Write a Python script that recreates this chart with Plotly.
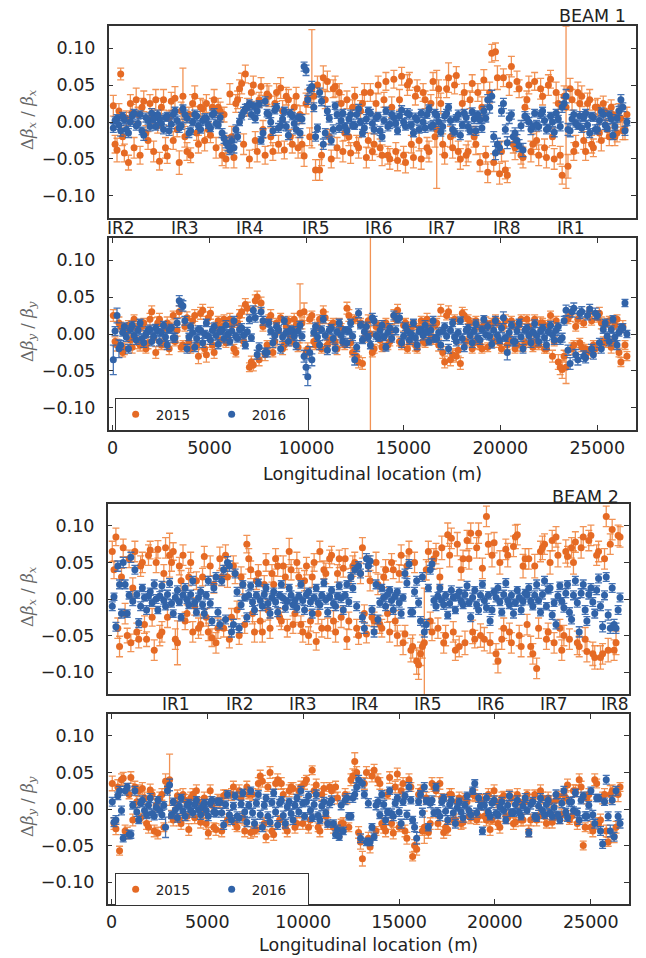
import numpy as np
import plotly.graph_objects as go

# ---------------- data (beta-beating values and errors in units of 1e-3) ----------------
# BPM longitudinal positions (m), two interleaved groups
bpm_s_a = [
    40, 230, 420, 610, 820, 1010, 1220, 1420, 1610, 1830, 2020, 2230,
    2420, 2630, 2820, 3030, 3220, 3440, 3630, 3840, 4030, 4240, 4430, 4650,
    4840, 5050, 5240, 5450, 5650, 5850, 6050, 6260, 6450, 6660, 6850, 7060,
    7260, 7460, 7660, 7870, 8060, 8270, 8460, 8670, 8860, 9070, 9270, 9470,
    9670, 9880, 10070, 10280, 10470, 10680, 10870, 11080, 11280, 11480, 11690, 11880,
    12090, 12280, 12490, 12690, 12890, 13090, 13300, 13490, 13700, 13900, 14100, 14300,
    14510, 14700, 14910, 15110, 15310, 15520, 15710, 15920, 16120, 16320, 16530, 16720,
    16930, 17130, 17330, 17540, 17730, 17940, 18140, 18340, 18550, 18740, 18950, 19150,
    19350, 19560, 19750, 19960, 20160, 20360, 20570, 20760, 20970, 21170, 21370, 21580,
    21770, 21980, 22180, 22380, 22590, 22780, 22990, 23190, 23390, 23600, 23790, 24000,
    24200, 24400, 24610, 24800, 25010, 25210, 25410, 25620, 25810, 26020, 26220, 26430,
]
bpm_s_b = [
    130, 330, 520, 710, 920, 1110, 1320, 1520, 1720, 1930, 2120, 2330,
    2520, 2730, 2920, 3130, 3330, 3540, 3730, 3940, 4130, 4340, 4540, 4750,
    4940, 5150, 5340, 5550, 5750, 5950, 6150, 6360, 6550, 6760, 6950, 7160,
    7360, 7560, 7760, 7970, 8160, 8370, 8560, 8770, 8960, 9170, 9370, 9570,
    9770, 9980, 10170, 10380, 10570, 10780, 10970, 11180, 11380, 11580, 11790, 11980,
    12190, 12380, 12590, 12790, 12990, 13190, 13400, 13590, 13800, 14000, 14200, 14400,
    14610, 14800, 15010, 15210, 15410, 15620, 15810, 16020, 16220, 16420, 16630, 16820,
    17030, 17230, 17430, 17640, 17830, 18040, 18240, 18440, 18650, 18840, 19050, 19250,
    19450, 19660, 19850, 20060, 20260, 20460, 20670, 20860, 21070, 21270, 21470, 21680,
    21870, 22080, 22280, 22480, 22690, 22880, 23090, 23290, 23490, 23700, 23890, 24100,
    24300, 24500, 24710, 24900, 25110, 25310, 25510, 25720, 25910, 26120, 26320, 26530,
]

# ---- Beam 1, horizontal ----
b1x_2015_a = [
    22, -38, 65, -42, -55, 12, 30, -45, 28, -25, 8, 30,
    -53, 30, -46, 28, 32, -55, 35, -40, -45, 35, -30, 18,
    25, -18, 30, 20, -45, -50, 38, -48, 30, 52, 65, -50,
    50, -40, 48, -45, 35, -40, 40, 46, -38, 30, -30, 35,
    10, -46, 32, 45, -65, -65, 60, 55, -50, 48, 40, -40,
    30, -42, 35, -35, 25, -48, 40, -30, 50, -45, 55, -50,
    58, -52, 62, -55, 55, -48, 45, -50, 30, -40, 55, -10,
    25, -45, 60, -35, 63, -50, 40, -40, 52, -30, -55, 57,
    -68, 93, 95, -70, 60, -72, 75, -35, 45, -48, 30, -40,
    55, -45, 35, -48, 58, -50, 25, -72, 20, 45, -40, 40,
    35, -40, 30, -35, 20, -25, 15, -20, 10, -15, 5, -10,
]
b1x_2015_b = [
    -30, 15, -20, 5, 25, -35, 10, 20, -15, 25, -40, -5,
    20, -35, 5, -25, -10, 15, -20, 10, 25, -15, 20, -25,
    -10, 20, -35, 15, 10, -30, -20, 25, 45, -30, 20, 40,
    -25, 30, -10, 38, -20, 25, -30, 15, 35, -20, 20, -35,
    -30, 25, -20, 35, 50, -45, 30, -20, 45, -35, 25, -15,
    -20, 20, -30, 15, 40, -25, -40, 25, -35, 30, -45, 20,
    -40, 30, -45, 50, -30, 35, -25, 40, -35, 25, -20, 45,
    -30, 45, -20, 50, -40, 25, -45, 30, -20, 40, 20, -45,
    40, -55, 60, -40, -65, 50, -30, 55, -45, 20, 50, -30,
    -25, 45, -35, 50, -20, 40, -45, 35, -60, 30, -30, 25,
    -25, 25, -30, 20, -15, 25, -10, 20, -20, 15, -12, 10,
]
b1x_2015_err_a = [
    14, 16, 8, 12, 10, 12, 16, 12, 14, 12, 10, 14,
    12, 14, 10, 12, 16, 16, 38, 12, 10, 14, 12, 12,
    12, 10, 14, 12, 14, 12, 14, 14, 12, 14, 12, 12,
    12, 14, 12, 12, 14, 12, 12, 14, 12, 14, 12, 12,
    12, 14, 12, 80, 14, 14, 16, 14, 12, 14, 12, 14,
    12, 14, 12, 14, 12, 14, 12, 14, 12, 14, 12, 14,
    12, 14, 12, 14, 12, 14, 12, 14, 12, 14, 12, 80,
    14, 12, 20, 14, 12, 14, 12, 14, 12, 14, 12, 14,
    14, 12, 12, 14, 12, 10, 14, 16, 12, 14, 12, 14,
    12, 14, 12, 14, 12, 14, 12, 12, 110, 14, 12, 14,
    14, 12, 14, 12, 12, 14, 12, 12, 14, 12, 12, 14,
]
b1x_2015_err_b = [
    12, 10, 12, 10, 12, 14, 10, 12, 10, 12, 14, 10,
    12, 14, 10, 12, 10, 12, 14, 10, 12, 10, 12, 14,
    10, 12, 14, 12, 10, 12, 14, 12, 12, 14, 12, 12,
    12, 10, 12, 14, 12, 10, 12, 14, 12, 10, 12, 14,
    12, 14, 12, 14, 12, 14, 12, 10, 12, 14, 12, 10,
    12, 10, 12, 14, 12, 10, 12, 14, 12, 10, 12, 14,
    12, 14, 12, 14, 12, 12, 14, 12, 14, 12, 14, 12,
    14, 12, 14, 12, 14, 12, 14, 12, 14, 12, 14, 12,
    14, 12, 16, 14, 12, 14, 12, 14, 12, 14, 12, 14,
    12, 14, 12, 14, 12, 14, 12, 14, 16, 14, 12, 14,
    12, 14, 12, 10, 12, 10, 12, 10, 12, 10, 12, 10,
]
b1x_2016_a = [
    -8, 5, -12, 3, -15, 8, -5, 10, -18, 2, 12, -6,
    4, -10, 8, -3, 15, -8, 18, 5, -12, 10, -5, 2,
    5, -8, 12, -4, -15, -28, -38, -35, -20, 8, 18, 25,
    22, 15, -25, 28, 10, -12, 20, -5, 15, -18, 8, -10,
    -15, 75, 30, 48, -20, 40, -30, 15, -25, 22, -8, 12,
    -12, 10, -5, 18, -15, 4, 12, -10, 8, -20, 15, -3,
    6, -12, 16, -6, 10, -15, 3, 12, -8, 18, -4, 9,
    -14, 8, 20, -10, 5, -18, 12, -6, 14, -12, 3, 15,
    30, 35, -42, -35, 25, -28, 10, -15, -32, -38, 5, -10,
    12, -6, 15, -10, 8, -14, 4, 20, 35, -12, 10, -5,
    -8, 12, -15, 6, -10, 14, -4, 10, -18, 5, 30, -12,
]
b1x_2016_b = [
    2, -4, 8, -10, 0, 12, -2, -12, 6, -6, 4, 10,
    -2, 6, -12, 10, 2, -5, 10, -15, 0, 8, -10, 5,
    -4, 10, -2, 6, -22, -32, -25, -10, 0, 14, 20, 10,
    5, 24, -15, 12, 0, 16, -8, 4, -6, 12, -2, 6,
    4, 70, 44, 20, -8, 28, -15, 5, -10, 10, 2, -6,
    4, -4, 10, 0, -8, 15, -2, 6, -12, 2, -6, 10,
    -2, 8, 0, 12, -4, 6, -10, 0, 10, -6, 12, 0,
    -6, 12, 2, -14, 10, -4, 6, -12, 4, 10, -8, 5,
    20, -20, -30, 15, -10, 5, -20, -25, -5, 8, 0, -6,
    -4, 10, 2, -8, 0, 12, -6, 25, -10, 4, -2, 8,
    6, -4, 8, -10, 2, 10, -8, 4, -6, 15, 20, 0,
]
b1x_2016_err_a = [
    6, 5, 7, 5, 6, 5, 6, 5, 7, 5, 6, 5,
    5, 6, 5, 6, 5, 6, 5, 6, 5, 6, 5, 6,
    6, 5, 6, 5, 6, 7, 6, 7, 6, 5, 6, 5,
    5, 6, 5, 6, 5, 6, 5, 6, 5, 6, 5, 6,
    6, 6, 6, 7, 6, 6, 7, 6, 6, 5, 6, 5,
    5, 6, 5, 6, 5, 6, 5, 6, 5, 6, 5, 6,
    6, 5, 6, 5, 6, 5, 6, 5, 6, 5, 6, 5,
    5, 6, 5, 6, 5, 6, 5, 6, 5, 6, 5, 6,
    7, 8, 9, 8, 7, 8, 6, 7, 8, 9, 6, 7,
    5, 6, 5, 6, 5, 6, 5, 7, 9, 8, 6, 5,
    6, 5, 6, 5, 6, 5, 6, 5, 6, 5, 7, 6,
]
b1x_2016_err_b = [
    5, 6, 5, 6, 6, 5, 6, 5, 6, 6, 5, 6,
    6, 5, 6, 5, 6, 5, 6, 6, 5, 6, 5, 6,
    5, 6, 5, 6, 7, 7, 6, 6, 5, 6, 5, 6,
    6, 5, 6, 5, 6, 5, 6, 5, 6, 5, 6, 5,
    6, 7, 6, 6, 5, 6, 6, 5, 6, 5, 6, 5,
    6, 5, 6, 5, 6, 5, 6, 5, 6, 5, 6, 5,
    5, 6, 5, 6, 5, 6, 5, 6, 5, 6, 5, 6,
    6, 5, 6, 5, 6, 5, 6, 5, 6, 5, 6, 5,
    8, 7, 8, 7, 6, 7, 8, 8, 7, 6, 6, 6,
    6, 5, 6, 5, 6, 5, 6, 8, 8, 6, 5, 6,
    5, 6, 5, 6, 5, 6, 5, 6, 5, 6, 6, 5,
]

# ---- Beam 1, vertical ----
b1y_2015_a = [
    25, -15, 10, -20, 12, -18, 8, -15, 15, -12, 30, -25,
    20, -12, 15, 10, -10, 30, -15, 22, -20, 25, -30, 32,
    -28, 28, -25, 18, 10, -12, 20, -20, 15, 30, 40, -45,
    -42, 50, 42, -28, 20, -25, 15, 22, -15, 18, -10, 12,
    28, 30, -20, 25, -15, 20, 30, -15, 12, -10, 15, -12,
    35, -12, 20, -38, -40, 10, 0, -20, 12, -18, 15, -10,
    25, 32, -15, 15, -10, 12, -20, 18, -12, 10, -8, 15,
    32, -38, 30, -28, -30, -40, 25, 20, -20, 18, -15, 12,
    -18, 15, 20, -12, 10, -15, 18, -20, 12, -18, 20, -10,
    20, -15, 15, -20, 25, -10, -38, -48, -45, 25, -15, 20,
    -18, -20, 30, -15, 22, 15, -12, 18, -10, 20, -38, -15,
]
b1y_2015_b = [
    -10, 15, -25, 5, -8, 20, -12, 10, -20, 20, -5, 15,
    -15, 8, -20, 25, 5, -18, 10, -10, 18, -15, 28, -20,
    22, -15, 10, -8, 20, -5, 12, -25, 25, -10, 35, -38,
    45, -35, 10, -15, 25, -10, 5, -20, 10, -5, 20, -18,
    15, -25, 20, -10, 10, -20, 22, -8, 15, -20, 8, -15,
    25, -25, -30, 15, -5, 18, -25, 10, -8, 12, -15, 5,
    20, -10, 12, -20, 10, -15, 8, -10, 20, -5, 12, -15,
    -25, 25, -35, 20, -22, 28, -10, 15, -12, 10, -20, 15,
    12, -10, 15, -20, 18, -8, 12, -15, 20, -12, 10, -18,
    -10, 15, -20, 12, -30, 18, -45, -30, 20, -20, 10, -12,
    15, -25, 18, -20, 28, -10, 15, -18, 12, -25, 10, -30,
]
b1y_2015_err_a = [
    8, 8, 6, 8, 6, 8, 6, 8, 6, 8, 8, 8,
    8, 6, 8, 6, 6, 8, 6, 8, 6, 8, 10, 8,
    10, 8, 8, 6, 6, 6, 8, 6, 6, 8, 8, 6,
    8, 8, 8, 8, 6, 6, 6, 6, 6, 6, 6, 6,
    40, 12, 8, 6, 6, 6, 8, 6, 6, 6, 6, 6,
    8, 6, 6, 8, 8, 6, 400, 6, 6, 6, 6, 6,
    8, 8, 6, 6, 6, 6, 6, 6, 6, 6, 6, 6,
    8, 8, 8, 8, 8, 8, 8, 6, 6, 6, 6, 6,
    6, 6, 6, 6, 6, 6, 6, 6, 6, 6, 6, 6,
    6, 6, 6, 6, 6, 6, 10, 12, 22, 8, 6, 6,
    6, 6, 6, 6, 6, 8, 6, 6, 6, 6, 6, 6,
]
b1y_2015_err_b = [
    6, 8, 6, 6, 8, 6, 8, 6, 6, 8, 6, 8,
    6, 6, 8, 6, 8, 6, 6, 8, 6, 6, 8, 6,
    8, 6, 6, 8, 6, 6, 8, 6, 8, 6, 8, 8,
    8, 8, 6, 6, 8, 6, 6, 8, 6, 6, 8, 6,
    8, 6, 6, 8, 6, 6, 8, 6, 6, 8, 6, 6,
    8, 6, 8, 6, 6, 8, 6, 6, 8, 6, 6, 8,
    6, 6, 8, 6, 6, 8, 6, 6, 8, 6, 6, 8,
    8, 6, 8, 6, 8, 8, 6, 6, 8, 6, 6, 8,
    6, 8, 6, 6, 8, 6, 6, 8, 6, 6, 8, 6,
    6, 8, 6, 6, 8, 6, 10, 8, 6, 8, 6, 6,
    6, 8, 6, 6, 8, 6, 6, 8, 6, 6, 8, 6,
]
b1y_2016_a = [
    -35, 25, -15, 10, -20, 12, -8, 15, -12, 5, -10, 8,
    -10, 12, -15, 8, -5, 45, 38, -20, 10, -18, 6, -12,
    15, -8, 10, -14, 5, 12, -10, 18, -6, 8, -15, 20,
    32, -28, 30, -25, 15, -12, 10, -20, 18, -10, 5, -15,
    12, -30, -58, -35, 10, -15, 20, -22, 8, -20, 15, -10,
    -12, 15, -35, 28, -8, 10, -15, 18, -5, 12, -18, 8,
    25, 20, -12, 10, -8, 15, -15, 5, 12, -10, 18, -6,
    -15, 10, -20, 15, -10, 18, -18, 8, -12, 14, -8, 20,
    10, -14, 18, -8, 22, -25, 12, -10, 15, -20, 8, -12,
    14, -10, 8, -15, 12, -8, 10, -5, 32, -40, 35, -35,
    30, -32, 34, -28, 25, -20, 15, -10, 20, -15, 8, 42,
]
b1y_2016_b = [
    4, -20, 2, -4, 6, -2, 5, -6, 0, 6, -3, 4,
    2, -4, 6, -5, 15, 40, 18, -4, 2, -6, 5, 0,
    -3, 5, -2, 4, -6, 0, 4, -3, 6, -2, 3, -5,
    22, -18, 18, -25, 4, -2, 6, -4, 2, 5, -3, 4,
    -3, -45, -25, 2, -4, 6, -2, 5, -6, 3, -2, 5,
    4, -3, -18, 12, 3, -4, 22, -2, 5, -4, 2, -6,
    5, 22, -3, 4, 0, -5, 4, -2, 3, 5, -6, 2,
    4, -3, 5, -4, 2, -6, 5, -2, 4, -5, 6, -1,
    -3, 5, -2, 8, -5, 2, -10, 4, -4, 5, -2, 3,
    -2, 4, -5, 3, -1, 5, -8, 18, -22, 30, -28, 28,
    -30, 25, -20, 28, -12, 6, -3, 6, -4, 2, 8, 0,
]
b1y_2016_err_a = [
    20, 10, 6, 5, 6, 5, 6, 5, 6, 5, 6, 5,
    6, 5, 6, 5, 6, 7, 7, 6, 5, 6, 5, 6,
    5, 6, 5, 6, 5, 6, 5, 6, 5, 6, 5, 6,
    6, 6, 6, 6, 5, 6, 5, 6, 5, 6, 5, 6,
    5, 8, 12, 8, 5, 6, 5, 6, 5, 6, 5, 6,
    6, 5, 7, 6, 5, 6, 5, 6, 5, 6, 5, 6,
    6, 5, 6, 5, 6, 5, 6, 5, 6, 5, 6, 5,
    6, 5, 6, 5, 6, 5, 6, 5, 6, 5, 6, 5,
    6, 5, 6, 5, 8, 10, 5, 6, 5, 6, 5, 6,
    5, 6, 5, 6, 5, 6, 5, 6, 7, 8, 7, 7,
    7, 7, 6, 6, 6, 6, 5, 6, 5, 6, 5, 5,
]
b1y_2016_err_b = [
    6, 12, 5, 6, 5, 6, 5, 6, 5, 6, 5, 6,
    5, 6, 5, 6, 6, 7, 6, 5, 6, 5, 6, 5,
    6, 5, 6, 5, 6, 5, 6, 5, 6, 5, 6, 5,
    6, 6, 6, 6, 5, 6, 5, 6, 5, 6, 5, 6,
    6, 10, 8, 5, 6, 5, 6, 5, 6, 5, 6, 5,
    5, 6, 6, 5, 6, 5, 6, 5, 6, 5, 6, 5,
    6, 6, 5, 6, 5, 6, 5, 6, 5, 6, 5, 6,
    5, 6, 5, 6, 5, 6, 5, 6, 5, 6, 5, 6,
    5, 6, 5, 6, 5, 6, 6, 5, 6, 5, 6, 5,
    6, 5, 6, 5, 6, 5, 6, 6, 7, 7, 7, 7,
    7, 6, 6, 7, 6, 5, 6, 5, 6, 5, 6, 5,
]

# ---- Beam 2, horizontal ----
b2x_2015_a = [
    65, 85, -65, 70, -50, -60, 65, -55, 50, -55, 67, -70,
    68, -45, 70, 60, 65, -60, 25, -30, 30, -45, 25, -35,
    58, -45, -53, -60, 55, -40, 30, -25, 35, -50, 20, 75,
    40, -45, 35, -45, 50, -40, 20, 45, -30, 30, 65, -35,
    50, -35, 25, -50, 30, -58, 65, 40, -40, 60, -45, 55,
    42, -55, 30, 50, -50, 70, -48, 25, -30, 20, -40, 40,
    -45, 40, -50, 60, -48, 65, -65, -85, -75, -60, 65, -45,
    62, 30, -60, 88, 83, -70, -65, 55, 80, 90, -55, 90,
    42, 113, -60, 77, -85, -55, 68, -45, 72, 88, -65, 55,
    55, -75, -95, 65, 75, -45, 80, 85, -40, -50, 58, 70,
    78, -65, 85, -72, 87, -80, 65, -75, 113, 75, -70, 87,
]
b2x_2015_b = [
    40, -40, 30, -20, 55, 15, -45, 45, -35, 60, -25, 50,
    -50, 35, -25, 50, -55, 45, 60, -20, 50, -10, -40, 30,
    -25, 45, 20, -40, 30, 60, -55, 45, -15, 30, -35, 55,
    -20, 25, -30, 20, -15, 35, 55, -25, 45, -40, 40, -20,
    30, -45, 45, -30, 50, -20, -40, 35, 55, -30, 35, -25,
    55, -30, 45, -40, 35, -20, 45, -25, 50, -35, 30, -20,
    50, -30, 35, -60, 45, -70, 50, -90, -65, 40, -30, 55,
    -40, 70, -50, 60, -45, 75, 40, -60, 55, -45, 70, -50,
    -55, 75, 60, -75, 50, -40, 60, -60, 85, -50, 45, -35,
    -65, 45, -40, 70, -55, 50, -60, 60, -70, 65, -55, 50,
    -60, 70, -55, 80, -75, 60, -80, 55, -70, 95, -60, 85,
]
b2x_2015_err_a = [
    14, 12, 14, 12, 10, 12, 14, 12, 14, 10, 12, 14,
    12, 14, 14, 30, 12, 30, 14, 12, 12, 14, 12, 14,
    14, 12, 12, 14, 16, 12, 14, 12, 14, 12, 14, 12,
    12, 14, 12, 14, 12, 14, 12, 14, 12, 14, 18, 12,
    14, 12, 14, 12, 14, 12, 14, 12, 14, 12, 14, 12,
    12, 14, 12, 14, 12, 14, 12, 14, 12, 14, 12, 14,
    14, 12, 14, 14, 12, 14, 16, 18, 16, 75, 14, 12,
    14, 12, 14, 16, 14, 14, 14, 12, 14, 14, 12, 14,
    14, 14, 14, 14, 16, 14, 14, 12, 14, 14, 14, 14,
    14, 14, 14, 14, 14, 12, 14, 14, 12, 14, 14, 14,
    14, 14, 14, 14, 14, 16, 14, 14, 14, 14, 14, 14,
]
b2x_2015_err_b = [
    12, 14, 12, 14, 12, 14, 12, 14, 12, 14, 12, 14,
    14, 12, 14, 12, 14, 12, 14, 12, 14, 12, 14, 12,
    12, 14, 12, 14, 12, 14, 12, 14, 12, 14, 12, 14,
    14, 12, 14, 12, 14, 12, 14, 12, 14, 12, 14, 12,
    12, 14, 12, 14, 12, 14, 12, 14, 12, 14, 12, 14,
    14, 12, 14, 12, 14, 12, 14, 12, 14, 12, 14, 12,
    12, 14, 12, 16, 14, 16, 14, 20, 16, 14, 12, 14,
    14, 16, 14, 16, 14, 16, 14, 16, 14, 16, 14, 16,
    16, 14, 16, 14, 16, 14, 16, 14, 16, 14, 16, 14,
    14, 16, 14, 16, 14, 16, 14, 16, 14, 16, 14, 16,
    16, 14, 16, 14, 16, 14, 16, 14, 16, 14, 16, 14,
]
b2x_2016_a = [
    -10, -38, 20, 50, -20, 57, 40, -33, 15, -15, 10, 20,
    -15, 18, -10, 22, -20, 12, -25, 15, -8, 25, -18, 10,
    -20, 25, -30, 30, -35, 40, 50, -45, 35, -40, 20, -25,
    18, -15, 22, -10, 15, -20, 10, -18, 20, -12, 15, -8,
    -12, 20, -15, 10, -20, 15, -8, 22, -18, 12, -10, 18,
    -15, 20, 30, 40, 45, -25, 55, 52, -45, -28, 15, -10,
    12, -15, 10, -20, 35, 48, -18, 25, -30, -45, 15, 48,
    -10, 15, -8, -22, 12, -15, 10, -8, 18, -25, 12, -15,
    20, -12, -30, 10, 15, -18, 22, -8, -20, 12, -15, 8,
    15, -10, 20, -18, 25, 12, -22, -35, 18, -12, 20, -28,
    25, -45, 20, -30, 15, -20, 28, -38, 30, -40, -35, -15,
]
b2x_2016_b = [
    3, 45, -20, 20, 5, -3, 6, -10, 2, 4, -5, 0,
    4, -2, 6, -6, 2, -4, 5, -1, 6, -5, 2, -8,
    5, -6, 15, -18, 25, -28, 45, -35, 10, -8, 2, 5,
    -4, 5, -2, 6, -6, 2, -4, 5, 1, -3, 5, -2,
    4, -2, 6, -4, 2, -5, 5, -1, 3, -6, 4, 1,
    5, -4, 15, -10, 35, -40, 45, -15, 20, -5, 2, 6,
    -2, 4, -5, 2, 22, -18, 10, -5, 30, -35, 40, -2,
    4, -2, 5, -6, 2, 4, -3, 6, -5, 2, -8, 5,
    -2, 5, -15, 2, -4, 6, -2, 5, -5, 2, -3, 6,
    -3, 5, -2, 6, -10, 15, -5, 4, -3, 8, -18, 5,
    -5, 8, -15, 6, -4, 12, -10, 5, -22, 15, -40, 2,
]
b2x_2016_err_a = [
    6, 6, 6, 7, 5, 7, 6, 6, 5, 6, 5, 6,
    5, 6, 5, 6, 5, 6, 5, 6, 5, 6, 5, 6,
    6, 6, 6, 6, 6, 6, 8, 7, 6, 6, 5, 6,
    5, 6, 5, 6, 5, 6, 5, 6, 5, 6, 5, 6,
    6, 5, 6, 5, 6, 5, 6, 5, 6, 5, 6, 5,
    6, 5, 6, 6, 6, 6, 7, 7, 7, 6, 5, 6,
    5, 6, 5, 6, 6, 6, 6, 6, 6, 7, 5, 7,
    6, 5, 6, 5, 6, 5, 6, 5, 6, 6, 5, 6,
    5, 6, 6, 5, 6, 5, 6, 5, 6, 5, 6, 5,
    6, 5, 6, 5, 6, 5, 6, 6, 5, 6, 5, 6,
    6, 7, 6, 6, 6, 6, 6, 7, 6, 7, 7, 6,
]
b2x_2016_err_b = [
    5, 7, 6, 6, 5, 6, 5, 6, 5, 6, 5, 6,
    6, 5, 6, 5, 6, 5, 6, 5, 6, 5, 6, 5,
    5, 6, 6, 6, 6, 6, 7, 7, 6, 6, 5, 6,
    6, 5, 6, 5, 6, 5, 6, 5, 6, 5, 6, 5,
    5, 6, 5, 6, 5, 6, 5, 6, 5, 6, 5, 6,
    5, 6, 6, 6, 6, 7, 7, 6, 6, 6, 5, 6,
    6, 5, 6, 5, 6, 6, 6, 6, 6, 7, 6, 6,
    5, 6, 5, 6, 5, 6, 5, 6, 5, 6, 5, 6,
    6, 5, 6, 6, 5, 6, 5, 6, 5, 6, 5, 6,
    5, 6, 5, 6, 5, 6, 5, 6, 5, 6, 6, 6,
    6, 6, 6, 6, 6, 6, 6, 6, 7, 6, 7, 6,
]

# ---- Beam 2, vertical ----
b2y_2015_a = [
    35, -27, -57, 42, -33, 43, 30, 25, 28, -20, 26, -30,
    -33, 20, 38, 40, -15, 18, -20, 12, -28, 20, 25, -18,
    15, -33, 5, -28, 10, 18, -15, 20, -20, 25, -12, 30,
    -32, -30, 35, 38, -38, 50, -35, 40, 35, -25, 25, 28,
    -20, 30, 35, -25, 53, 33, -30, 28, -20, 25, 30, -30,
    -20, 15, 40, 65, -32, -68, 50, -52, 53, 40, -20, -30,
    43, -33, 48, 25, -30, 40, -65, -55, 25, -25, -32, 35,
    25, 35, -32, -28, 20, -15, 15, -18, 10, -12, 18, -10,
    12, -15, -28, 25, -20, 15, -10, 18, -20, 20, -15, 10,
    -30, 12, -15, 25, -10, 15, -18, 12, -12, 20, 33, -10,
    25, 40, -50, 15, -25, 40, -20, 15, -30, 20, -38, 20,
]
b2y_2015_b = [
    -20, 30, 40, -30, 20, -15, 10, -12, 15, -25, 20, 5,
    15, -25, 30, -10, 8, -15, 20, -10, 15, -12, 10, -5,
    -20, 25, -25, 12, -30, 20, -10, 30, -25, 15, -30, 20,
    20, -28, 45, -20, 30, -30, 35, -15, 20, -30, 30, -25,
    25, -20, 40, -15, 25, -25, 20, -10, 30, -25, 15, -20,
    20, -25, 45, 50, -45, 35, -40, 45, -30, 35, -25, 20,
    -20, 30, -25, 35, -40, 30, -50, 20, -30, 15, -20, 30,
    -20, 15, -25, 20, -15, 10, -20, 15, -10, 20, -15, 12,
    -10, 20, -15, 10, -25, 18, -12, 15, -18, 10, -15, 20,
    -15, 20, -10, 15, -20, 10, -12, 18, -8, 15, -15, 25,
    -20, 30, -25, 20, -30, 35, -15, 20, -45, 25, -25, 30,
]
b2y_2015_err_a = [
    10, 8, 6, 8, 8, 8, 8, 8, 8, 8, 8, 8,
    8, 8, 10, 35, 8, 8, 8, 8, 8, 8, 8, 8,
    8, 8, 8, 8, 8, 8, 8, 8, 8, 8, 8, 8,
    8, 8, 8, 8, 8, 8, 8, 8, 8, 8, 8, 8,
    8, 8, 8, 8, 6, 8, 8, 8, 8, 8, 8, 8,
    8, 8, 8, 12, 8, 10, 8, 8, 8, 8, 8, 8,
    8, 8, 8, 8, 8, 8, 6, 8, 8, 22, 8, 8,
    8, 8, 8, 8, 8, 8, 8, 8, 8, 8, 8, 8,
    8, 8, 8, 8, 8, 8, 8, 8, 8, 8, 8, 8,
    8, 8, 8, 8, 8, 8, 8, 8, 8, 8, 8, 8,
    8, 8, 6, 8, 8, 8, 8, 8, 8, 12, 8, 10,
]
b2y_2015_err_b = [
    8, 10, 8, 8, 6, 8, 8, 6, 8, 8, 6, 8,
    8, 6, 8, 8, 6, 8, 8, 6, 8, 8, 6, 8,
    8, 8, 6, 8, 8, 6, 8, 8, 6, 8, 8, 6,
    8, 6, 8, 8, 6, 8, 8, 6, 8, 8, 6, 8,
    8, 8, 6, 8, 8, 6, 8, 8, 6, 8, 8, 6,
    8, 6, 10, 8, 10, 8, 8, 8, 6, 8, 8, 6,
    8, 8, 6, 8, 8, 6, 8, 8, 6, 8, 8, 6,
    8, 6, 8, 8, 6, 8, 8, 6, 8, 8, 6, 8,
    8, 8, 6, 8, 8, 6, 8, 8, 6, 8, 8, 6,
    8, 6, 8, 8, 6, 8, 8, 6, 8, 8, 6, 8,
    8, 8, 6, 8, 8, 6, 8, 8, 6, 8, 8, 6,
]
b2y_2016_a = [
    10, -15, 25, -40, 30, -35, 25, -15, 12, -8, 15, -10,
    12, -8, -25, 33, 10, -12, 15, -10, 8, -5, 12, -8,
    8, -10, 12, -5, 10, -22, 20, -15, 18, -12, 22, -18,
    25, -20, 20, -25, 15, -18, 22, -22, 12, -20, 10, -15,
    15, 25, -10, 18, -12, 20, -15, 10, -20, 12, -35, -38,
    -30, 15, -10, 20, 40, 35, -45, -45, -38, 10, 20, -15,
    25, -10, 15, -20, 18, 30, -15, -40, 20, 30, -25, 12,
    30, -10, 15, -15, 12, -20, 10, -12, 18, -8, 35, 15,
    -30, 15, -10, 12, -8, 10, -15, 18, -5, 12, -10, 15,
    -33, 10, -12, 15, -8, 12, -10, 20, -15, 25, -12, 10,
    22, -15, 18, -10, 25, -20, 15, -48, 40, -30, -38, -10,
]
b2y_2016_b = [
    -18, 18, -2, 25, -35, 5, -4, 8, -2, 5, -6, 2,
    -2, 5, 25, -8, -1, 4, -3, 5, -2, 6, -1, 3,
    -2, 8, -4, 10, -5, 6, -8, 4, -10, 7, -4, 5,
    -5, 8, -8, 5, -10, 9, -4, 8, -9, 3, -6, 5,
    -4, 8, 10, -2, 6, -9, 4, -5, 8, -20, -28, 5,
    12, -10, 15, 30, -40, 20, 8, -25, 5, -8, 6, -4,
    -6, 8, -4, 10, -8, 12, -25, 10, -5, 11, 8, -5,
    -4, 10, -3, 6, -5, 2, -4, 5, -2, 25, -5, 4,
    5, -4, 8, -6, 3, -2, 5, -5, 6, -4, 4, -2,
    6, -10, 4, -2, 6, -5, 2, -8, 8, -4, 10, -2,
    -5, 12, -10, 5, -8, 15, -30, 10, -10, 12, 25, -20,
]
b2y_2016_err_a = [
    6, 6, 6, 5, 5, 5, 6, 5, 6, 5, 6, 5,
    5, 6, 14, 8, 5, 6, 5, 6, 5, 6, 5, 6,
    5, 6, 5, 6, 5, 6, 5, 6, 5, 6, 5, 6,
    5, 6, 5, 6, 5, 6, 5, 6, 5, 6, 5, 6,
    5, 6, 5, 6, 5, 6, 5, 6, 5, 6, 5, 5,
    5, 6, 5, 6, 6, 6, 5, 5, 5, 6, 5, 6,
    5, 6, 5, 6, 5, 6, 5, 8, 5, 6, 5, 6,
    5, 6, 5, 6, 5, 6, 5, 6, 5, 6, 5, 6,
    5, 6, 5, 6, 5, 6, 5, 6, 5, 6, 5, 6,
    5, 6, 5, 6, 5, 6, 5, 6, 5, 6, 5, 6,
    5, 6, 5, 6, 5, 6, 5, 6, 6, 8, 6, 6,
]
b2y_2016_err_b = [
    6, 5, 6, 6, 6, 5, 6, 5, 6, 5, 6, 5,
    6, 5, 6, 5, 6, 5, 6, 5, 6, 5, 6, 5,
    6, 5, 6, 5, 6, 5, 6, 5, 6, 5, 6, 5,
    6, 5, 6, 5, 6, 5, 6, 5, 6, 5, 6, 5,
    6, 5, 6, 5, 6, 5, 6, 5, 6, 5, 6, 6,
    6, 5, 6, 6, 6, 5, 6, 5, 6, 5, 6, 5,
    6, 5, 6, 5, 6, 5, 6, 5, 6, 5, 6, 5,
    6, 5, 6, 5, 6, 5, 6, 5, 6, 5, 6, 5,
    6, 5, 6, 5, 6, 5, 6, 5, 6, 5, 6, 5,
    6, 5, 6, 5, 6, 5, 6, 5, 6, 5, 6, 5,
    6, 5, 6, 5, 6, 5, 6, 5, 6, 6, 6, 6,
]

ir_labels_b1 = ["IR2", "IR3", "IR4", "IR5", "IR6", "IR7", "IR8", "IR1"]
ir_pos_b1 = [450, 3750, 7090, 10480, 13720, 17010, 20350, 23640]
ir_labels_b2 = ["IR1", "IR2", "IR3", "IR4", "IR5", "IR6", "IR7", "IR8"]
ir_pos_b2 = [3340, 6680, 9970, 13210, 16500, 19790, 23080, 26270]

x_ticks = [0, 5000, 10000, 15000, 20000, 25000]
y_ticks = [-0.10, -0.05, 0.0, 0.05, 0.10]
y_ticktext = ["\u22120.10", "\u22120.05", "0.00", "0.05", "0.10"]
series_names = ["2015", "2016"]

# ---------------- figure ----------------
W, H = 646, 958
FONT = "DejaVu Sans"
ORANGE = "#E56A24"
ORANGE_ERR = "rgba(240,128,55,0.85)"
BLUE = "#3163A8"
BLUE_ERR = "rgba(50,100,172,0.9)"


def px_x(p):
    return p / W


def px_y(p):
    return 1 - p / H


s_all = np.array(bpm_s_a + bpm_s_b, dtype=float)
scale = 1e-3

panels = [
    (b1x_2015_a + b1x_2015_b, b1x_2015_err_a + b1x_2015_err_b,
     b1x_2016_a + b1x_2016_b, b1x_2016_err_a + b1x_2016_err_b, 26, 218, 107, 636),
    (b1y_2015_a + b1y_2015_b, b1y_2015_err_a + b1y_2015_err_b,
     b1y_2016_a + b1y_2016_b, b1y_2016_err_a + b1y_2016_err_b, 238, 430, 107, 636),
    (b2x_2015_a + b2x_2015_b, b2x_2015_err_a + b2x_2015_err_b,
     b2x_2016_a + b2x_2016_b, b2x_2016_err_a + b2x_2016_err_b, 504, 694, 106, 629),
    (b2y_2015_a + b2y_2015_b, b2y_2015_err_a + b2y_2015_err_b,
     b2y_2016_a + b2y_2016_b, b2y_2016_err_a + b2y_2016_err_b, 714, 904, 106, 629),
]

fig = go.Figure()
layout = dict(
    width=W, height=H,
    margin=dict(l=0, r=0, t=0, b=0),
    paper_bgcolor="white", plot_bgcolor="white",
    font=dict(family=FONT, size=17, color="#222"),
    showlegend=True,
)

for k, (y15, e15, y16, e16, top, bot, left, right) in enumerate(panels):
    n = k + 1
    xa = "x" if n == 1 else f"x{n}"
    ya = "y" if n == 1 else f"y{n}"
    leg, show = None, False
    if n == 2:
        leg, show = "legend", True
    elif n == 4:
        leg, show = "legend2", True
    for yv, ev, name, mc, ec in [
        (y15, e15, series_names[0], ORANGE, ORANGE_ERR),
        (y16, e16, series_names[1], BLUE, BLUE_ERR),
    ]:
        m = min(len(s_all), len(yv), len(ev))
        tr = dict(
            x=s_all[:m], y=np.array(yv[:m]) * scale,
            mode="markers", name=name,
            marker=dict(color=mc, size=7, line=dict(width=0)),
            error_y=dict(type="data", array=np.array(ev[:m]) * scale, color=ec,
                         thickness=1.3, width=3.5),
            xaxis=xa, yaxis=ya, showlegend=show,
        )
        if leg:
            tr["legend"] = leg
        fig.add_trace(go.Scatter(**tr))

    bottom_labels = n in (2, 4)
    xkey = "xaxis" if n == 1 else f"xaxis{n}"
    ykey = "yaxis" if n == 1 else f"yaxis{n}"
    layout[xkey] = dict(
        domain=[px_x(left), px_x(right)], anchor=ya,
        range=[-200, 27000],
        showline=True, linecolor="#333", linewidth=1.5,
        mirror="allticks" if bottom_labels else True,
        ticks="inside" if bottom_labels else "",
        ticklen=5, tickwidth=1, tickcolor="#333",
        tickvals=x_ticks, tickformat="d",
        showticklabels=bottom_labels,
        ticklabelstandoff=1,
        showgrid=False, zeroline=False,
        tickfont=dict(size=17.5, color="#222"),
    )
    layout[ykey] = dict(
        domain=[px_y(bot), px_y(top)], anchor=xa,
        range=[-0.13, 0.13],
        showline=True, linecolor="#333", linewidth=1.5,
        mirror="allticks", ticks="inside", ticklen=5, tickwidth=1, tickcolor="#333",
        tickvals=y_ticks, ticktext=y_ticktext,
        ticklabelstandoff=8,
        showgrid=False, zeroline=False,
        tickfont=dict(size=17.5, color="#222"),
    )

annotations = []
ytitles = [
    "\u0394<i>\u03b2<sub>x</sub></i> / <i>\u03b2<sub>x</sub></i>",
    "\u0394<i>\u03b2<sub>y</sub></i> / <i>\u03b2<sub>y</sub></i>",
    "\u0394<i>\u03b2<sub>x</sub></i> / <i>\u03b2<sub>x</sub></i>",
    "\u0394<i>\u03b2<sub>y</sub></i> / <i>\u03b2<sub>y</sub></i>",
]
for (_, _, _, _, top, bot, left, right), t in zip(panels, ytitles):
    annotations.append(dict(
        text=t, textangle=-90, showarrow=False,
        xref="paper", yref="paper", x=px_x(26), y=px_y((top + bot) / 2 - 3),
        xanchor="center", yanchor="middle",
        font=dict(family="DejaVu Serif", size=16.5, color="#666"),
    ))

for lab, pos in zip(ir_labels_b1, ir_pos_b1):
    annotations.append(dict(text=lab, x=pos, xref="x2", y=px_y(228), yref="paper",
                            showarrow=False, xanchor="center", yanchor="middle",
                            font=dict(size=17, color="#222")))
for lab, pos in zip(ir_labels_b2, ir_pos_b2):
    annotations.append(dict(text=lab, x=pos, xref="x4", y=px_y(704), yref="paper",
                            showarrow=False, xanchor="center", yanchor="middle",
                            font=dict(size=17, color="#222")))

annotations.append(dict(text="BEAM 1", x=px_x(628), y=px_y(16), xref="paper", yref="paper",
                        showarrow=False, xanchor="right", yanchor="middle",
                        font=dict(size=17.5, color="#222")))
annotations.append(dict(text="BEAM 2", x=px_x(621), y=px_y(497), xref="paper", yref="paper",
                        showarrow=False, xanchor="right", yanchor="middle",
                        font=dict(size=17.5, color="#222")))

annotations.append(dict(text="Longitudinal location (m)", x=px_x(372), y=px_y(474),
                        xref="paper", yref="paper", showarrow=False,
                        xanchor="center", yanchor="middle", font=dict(size=17.5, color="#222")))
annotations.append(dict(text="Longitudinal location (m)", x=px_x(368), y=px_y(945),
                        xref="paper", yref="paper", showarrow=False,
                        xanchor="center", yanchor="middle", font=dict(size=17.5, color="#222")))

layout["annotations"] = annotations

leg_common = dict(
    orientation="h", xanchor="left", yanchor="top",
    bgcolor="white", bordercolor="#333", borderwidth=1,
    font=dict(size=13.5, color="#222"),
    entrywidth=51, itemwidth=30, tracegroupgap=0,
)
layout["legend"] = dict(x=px_x(113), y=px_y(398), **leg_common)
layout["legend2"] = dict(x=px_x(113), y=px_y(873), **leg_common)

fig.update_layout(**layout)
fig.write_html(
    "out.html",
    config={"displayModeBar": False},
    post_script="document.body.style.margin='0px';document.body.style.overflow='hidden';",
)
